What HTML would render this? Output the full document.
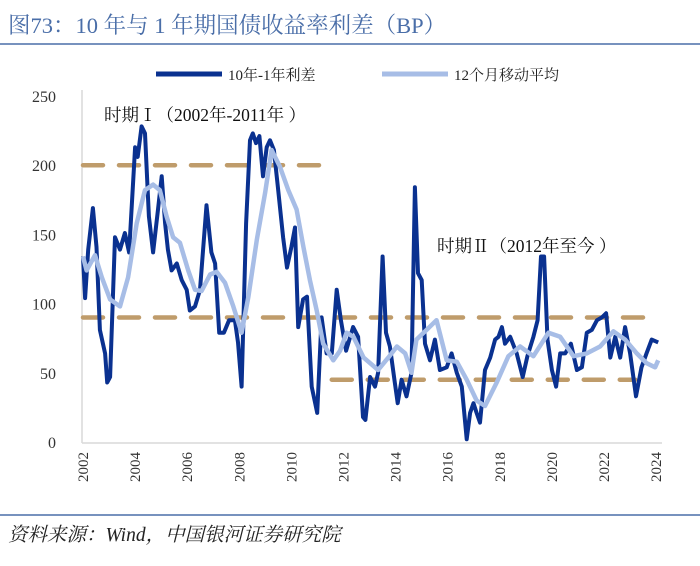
<!DOCTYPE html>
<html><head><meta charset="utf-8"><style>
body{margin:0;background:#fff;}
svg{display:block;font-family:"Liberation Serif","Noto Serif CJK SC",serif;}
</style></head><body>
<svg width="700" height="566" viewBox="0 0 700 566">
<text x="8" y="33" font-size="22.5" fill="#4a6ea8">图73：10 年与 1 年期国债收益率利差（BP）</text>
<line x1="0" y1="44" x2="700" y2="44" stroke="#4a6ea8" stroke-width="1.5"/>
<g>
<line x1="156" y1="74" x2="222" y2="74" stroke="#0a3190" stroke-width="5"/>
<text x="228" y="80" font-size="15" fill="#222">10年-1年利差</text>
<line x1="382" y1="74" x2="448" y2="74" stroke="#a7bde6" stroke-width="5"/>
<text x="454" y="80" font-size="15" fill="#222">12个月移动平均</text>
</g>
<g id="axes"></g>
<g id="refs"></g>
<g id="series"></g>
<text x="104" y="121" font-size="17.5" fill="#111">时期Ⅰ（2002年-2011年 ）</text>
<text x="437" y="252" font-size="17.5" fill="#111">时期Ⅱ（2012年至今 ）</text>
<line x1="0" y1="515" x2="700" y2="515" stroke="#4a6ea8" stroke-width="1.5"/>
<text x="8" y="541" font-size="19.5" font-style="italic" fill="#222">资料来源：Wind，中国银河证券研究院</text>
</svg>
<script>
const spreadYears=[2002,2002.08,2002.2,2002.38,2002.52,2002.65,2002.85,2002.93,2003.04,2003.23,2003.42,2003.61,2003.77,2004.0,2004.1,2004.25,2004.38,2004.53,2004.69,2004.88,2005.02,2005.15,2005.26,2005.4,2005.6,2005.79,2005.98,2006.1,2006.3,2006.49,2006.74,2006.93,2007.07,2007.23,2007.41,2007.61,2007.83,2007.95,2008.09,2008.26,2008.41,2008.52,2008.64,2008.77,2008.91,2009.05,2009.18,2009.33,2009.48,2009.68,2009.83,2010.0,2010.14,2010.26,2010.45,2010.6,2010.78,2010.99,2011.16,2011.35,2011.55,2011.74,2011.9,2012.1,2012.37,2012.56,2012.75,2012.84,2013.02,2013.21,2013.33,2013.5,2013.63,2013.78,2013.97,2014.08,2014.23,2014.42,2014.61,2014.74,2014.86,2015.0,2015.13,2015.32,2015.51,2015.7,2015.96,2016.15,2016.35,2016.54,2016.73,2016.86,2016.99,2017.11,2017.24,2017.43,2017.63,2017.82,2017.95,2018.08,2018.2,2018.4,2018.65,2018.88,2019.06,2019.29,2019.45,2019.58,2019.7,2019.83,2020.0,2020.16,2020.32,2020.51,2020.73,2020.96,2021.15,2021.34,2021.53,2021.73,2021.92,2022.08,2022.24,2022.43,2022.62,2022.81,2023.0,2023.23,2023.44,2023.63,2023.83,2024.08];
const spreadValues=[134,104,139,169,141,81,64,43,47,148,139,151,137,213,206,228,223,163,137,168,192,158,139,124,129,117,110,95,98,110,171,137,129,79,79,88,88,72,40,158,218,223,216,221,192,213,218,211,184,148,126,141,155,83,103,105,40,21,90,64,64,110,88,66,83,76,18,16,47,40,50,134,79,69,43,28,45,33,50,184,122,117,71,59,74,52,54,64,50,40,2,21,28,21,14,52,61,74,76,83,71,76,64,47,62,76,88,134,134,74,52,40,64,64,71,52,54,79,81,88,90,93,61,76,61,83,64,33,54,64,74,72];
const maYears=[2002,2002.14,2002.46,2002.72,2003.04,2003.42,2003.73,2004.06,2004.38,2004.69,2004.95,2005.21,2005.46,2005.72,2006.04,2006.3,2006.55,2006.88,2007.13,2007.45,2007.77,2008.09,2008.35,2008.67,2008.99,2009.24,2009.56,2009.88,2010.2,2010.46,2010.71,2010.97,2011.22,2011.61,2011.87,2012.12,2012.38,2012.77,2013.33,2013.72,2014.05,2014.37,2014.61,2014.8,2015.19,2015.57,2015.96,2016.35,2016.73,2017.11,2017.43,2017.88,2018.33,2018.78,2019.29,2019.87,2020.32,2020.83,2021.34,2021.85,2022.36,2022.81,2023.26,2023.63,2023.96,2024.08];
const maValues=[134,124,135,119,103,98,119,158,182,186,182,163,148,144,124,110,109,121,123,115,98,79,105,146,180,211,199,182,168,141,117,95,71,59,66,79,76,61,52,61,69,64,50,74,81,88,59,58,45,30,26,43,62,69,62,79,76,62,64,69,80,74,64,57,54,59];
const yTicks=[0,50,100,150,200,250];
const xTicks=[2002,2004,2006,2008,2010,2012,2014,2016,2018,2020,2022,2024];
const refLevels=[200,90,45];
const refStart=[2002,2002,2011.55];
const refEnd=[2011.3,2024.1,2023.2];

const NS='http://www.w3.org/2000/svg';
const X=y=>83+(y-2002)*26.05;
const Y=v=>442-v*1.384;
function mk(tag,attrs,parent){const e=document.createElementNS(NS,tag);for(const k in attrs)e.setAttribute(k,attrs[k]);parent.appendChild(e);return e;}
const axes=document.getElementById('axes');
let ax=mk('line',{x1:82,y1:90,x2:82,y2:443,stroke:'#d9d9d9','stroke-width':1.5},axes);


let bx=mk('line',{x1:82,y1:443,x2:662,y2:443,stroke:'#d9d9d9','stroke-width':1.5},axes);


yTicks.forEach(v=>{const t=mk('text',{x:56,y:Y(v)+6,'font-size':16,fill:'#333','text-anchor':'end'},axes);t.textContent=v;

});
xTicks.forEach(v=>{const t=mk('text',{transform:`translate(${X(v)+5},${452}) rotate(-90)`,'font-size':15,fill:'#333','text-anchor':'end'},axes);t.textContent=v;

});
const refs=document.getElementById('refs');
refLevels.forEach((v,i)=>{const l=mk('line',{x1:X(refStart[i]),y1:Y(v),x2:X(refEnd[i]),y2:Y(v),stroke:'#bf9c6b','stroke-width':4.5,'stroke-dasharray':'20 16','stroke-linecap':'round'},refs);

});
const s=document.getElementById('series');
function path(xs,vs){return xs.map((x,i)=>(i?'L':'M')+X(x).toFixed(1)+','+Y(vs[i]).toFixed(1)).join('');}
const p1=mk('path',{d:path(spreadYears,spreadValues),fill:'none',stroke:'#0a3190','stroke-width':4,'stroke-linejoin':'round'},s);


const p2=mk('path',{d:path(maYears,maValues),fill:'none',stroke:'#a7bde6','stroke-width':4.5,'stroke-linejoin':'round'},s);


</script>
</body></html>
